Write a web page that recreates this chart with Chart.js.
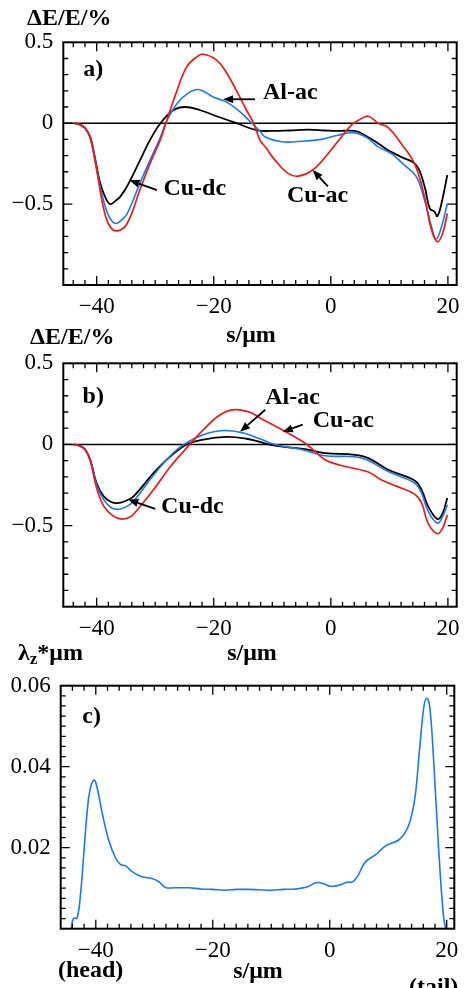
<!DOCTYPE html>
<html>
<head>
<meta charset="utf-8">
<script src="https://cdn.jsdelivr.net/npm/chart.js@4.4.1/dist/chart.umd.min.js"></script>
<style>
  body { margin: 0; background: #fff; }
  #page { position: relative; width: 469px; height: 988px; overflow: hidden; font-family: "Liberation Serif", "Times New Roman", serif; }
  #page canvas { position: absolute; left: 0; }
  .lbl { position: absolute; font-weight: bold; font-size: 24px; line-height: 24px; white-space: nowrap; color: #000; }
  .ctr { transform: translateX(-50%); }
</style>
</head>
<body>
<div id="page">
  <canvas id="chartA" width="469" height="320" style="top:0"></canvas>
  <canvas id="chartB" width="469" height="320" style="top:320px"></canvas>
  <canvas id="chartC" width="469" height="348" style="top:640px"></canvas>

  <div class="lbl" style="left:27px; top:5px">ΔE/E/%</div>
  <div class="lbl ctr" style="left:251px; top:322px">s/μm</div>
  <div class="lbl" style="left:30px; top:324px">ΔE/E/%</div>
  <div class="lbl ctr" style="left:252px; top:640px">s/μm</div>
  <div class="lbl" style="left:18px; top:640px">λ<span style="font-size:17px; position:relative; top:4px">z</span>*μm</div>
  <div class="lbl" style="left:58px; top:957px">(head)</div>
  <div class="lbl ctr" style="left:258px; top:958px">s/μm</div>
  <div class="lbl" style="left:409px; top:974px">(tail)</div>
</div>

<script>
// s positions (µm) and energy deviation ΔE/E (%) — panel a
const aCuDcS = [-43.9, -42.8, -42.0, -41.1, -40.2, -39.4, -38.5, -37.7, -36.8, -36.0, -34.8, -32.6, -30.9, -29.1, -26.9, -24.9, -22.3, -19.5, -16.1, -12.7, -10.1, -7.0, -3.9, -1.0, 1.2, 4.1, 5.8, 8.1, 9.8, 12.0, 14.6, 16.0, 16.9, 17.7, 18.2, 18.9, 19.9];
const aCuDc  = [0, -0.01, -0.03, -0.085, -0.23, -0.37, -0.46, -0.50, -0.48, -0.455, -0.39, -0.23, -0.105, 0.0, 0.08, 0.10, 0.08, 0.043, 0.0, -0.043, -0.048, -0.045, -0.04, -0.045, -0.048, -0.048, -0.074, -0.125, -0.167, -0.208, -0.26, -0.39, -0.527, -0.547, -0.574, -0.496, -0.32];

const aAlAcS = [-43.9, -42.8, -42.0, -41.1, -40.2, -39.4, -38.5, -37.7, -36.8, -35.8, -34.8, -32.6, -30.9, -29.1, -28.0, -26.3, -24.6, -22.6, -20.0, -17.8, -15.5, -13.5, -12.1, -11.2, -8.4, -4.4, -1.6, 1.2, 4.1, 6.4, 8.1, 10.3, 12.6, 14.6, 16.0, 17.2, 18.0, 18.9, 19.9];
const aAlAc  = [0, -0.01, -0.03, -0.088, -0.24, -0.39, -0.52, -0.59, -0.62, -0.60, -0.56, -0.37, -0.23, -0.085, 0.017, 0.12, 0.18, 0.208, 0.16, 0.13, 0.07, 0.0, -0.05, -0.085, -0.115, -0.11, -0.10, -0.074, -0.06, -0.095, -0.146, -0.187, -0.26, -0.33, -0.475, -0.64, -0.716, -0.64, -0.496];

const aCuAcS = [-43.9, -42.8, -42.0, -41.1, -39.9, -38.8, -37.7, -36.4, -34.8, -32.6, -30.9, -29.1, -28.0, -26.3, -24.6, -22.9, -21.8, -19.5, -17.8, -16.1, -14.4, -13.2, -12.1, -11.2, -9.5, -7.3, -5.6, -3.0, -0.45, 1.8, 3.5, 4.7, 6.4, 8.1, 9.8, 12.0, 14.3, 16.0, 17.2, 18.2, 19.1, 19.9];
const aCuAc  = [0, -0.01, -0.03, -0.09, -0.31, -0.53, -0.64, -0.665, -0.62, -0.41, -0.25, -0.10, 0.02, 0.20, 0.35, 0.41, 0.426, 0.39, 0.31, 0.20, 0.08, 0.0, -0.105, -0.146, -0.23, -0.31, -0.327, -0.286, -0.187, -0.085, -0.012, 0.018, 0.043, 0.0, -0.027, -0.125, -0.25, -0.455, -0.66, -0.733, -0.68, -0.557];

// panel b
const bCuDcS = [-43.9, -42.8, -42.0, -41.1, -40.0, -38.8, -37.5, -36.5, -35.2, -33.7, -30.3, -27.4, -24.6, -21.8, -17.8, -14.4, -12.1, -9.5, -4.4, -1.0, 4.1, 6.4, 9.8, 14.3, 15.5, 16.6, 18.2, 19.1, 19.9];
const bCuDc  = [0, -0.01, -0.03, -0.094, -0.24, -0.32, -0.355, -0.362, -0.35, -0.32, -0.177, -0.074, 0.0, 0.03, 0.046, 0.035, 0.015, -0.008, -0.029, -0.053, -0.064, -0.084, -0.156, -0.222, -0.28, -0.38, -0.46, -0.423, -0.33];

const bAlAcS = [-43.9, -42.8, -42.0, -41.1, -40.0, -38.8, -37.5, -36.3, -35.0, -33.7, -30.3, -27.4, -25.1, -21.8, -18.3, -14.9, -12.1, -9.5, -4.4, -1.0, 4.1, 6.4, 9.8, 14.3, 15.5, 16.6, 18.2, 19.1, 19.9];
const bAlAc  = [0, -0.01, -0.03, -0.094, -0.25, -0.34, -0.39, -0.40, -0.385, -0.35, -0.19, -0.07, 0.0, 0.06, 0.086, 0.07, 0.035, 0.0, -0.037, -0.07, -0.076, -0.099, -0.167, -0.238, -0.30, -0.41, -0.485, -0.444, -0.372];

const bCuAcS = [-43.9, -42.8, -42.0, -41.1, -40.0, -38.8, -37.2, -35.7, -34.5, -33.7, -30.3, -27.4, -24.1, -21.8, -18.9, -16.4, -13.8, -12.1, -7.8, -4.1, -1.0, 1.8, 6.4, 8.6, 11.4, 14.3, 15.5, 16.6, 18.2, 19.1, 19.9];
const bCuAc  = [0, -0.01, -0.03, -0.10, -0.27, -0.38, -0.44, -0.46, -0.45, -0.43, -0.28, -0.136, 0.0, 0.09, 0.183, 0.214, 0.198, 0.163, 0.08, 0.0, -0.094, -0.13, -0.17, -0.218, -0.26, -0.306, -0.36, -0.485, -0.55, -0.516, -0.434];

// panel c: longitudinal line density λz (1/µm)
const cLambdaS = [-44.2, -43.8, -43.2, -42.6, -42.05, -41.5, -41.0, -40.3, -39.8, -38.9, -37.8, -36.6, -35.8, -34.9, -33.8, -32.1, -30.4, -29.2, -28.1, -26.4, -24.1, -22.0, -20.0, -18.0, -16.0, -14.0, -12.0, -10.0, -8.0, -6.0, -5.0, -3.9, -2.2, -1.0, 0.1, 1.5, 3.0, 3.8, 4.7, 6.1, 7.8, 9.5, 11.8, 12.9, 13.8, 14.6, 15.4, 16.1, 16.6, 17.1, 17.8, 18.6, 19.4, 19.8];
const cLambda  = [0, 0.0026, 0.0026, 0.0087, 0.0186, 0.0285, 0.0342, 0.0367, 0.035, 0.0285, 0.0219, 0.0174, 0.0159, 0.0155, 0.0141, 0.0128, 0.0124, 0.0116, 0.0102, 0.0101, 0.0101, 0.0098, 0.0097, 0.0095, 0.0097, 0.0097, 0.0096, 0.0095, 0.0097, 0.0098, 0.0100, 0.0103, 0.0114, 0.0111, 0.0105, 0.0107, 0.0115, 0.0115, 0.0128, 0.0165, 0.0182, 0.0204, 0.0219, 0.0237, 0.0268, 0.0326, 0.0449, 0.0548, 0.0569, 0.0548, 0.0408, 0.0202, 0.0038, 0];

// tick labels
const sTicks = [-40, -20, 0, 20];
const dETicks = [0.5, 0, -0.5];
const lambdaTicks = [0.06, 0.04, 0.02];

const RED = '#f01a1a', BLUE = '#1a78f0', BLACK = '#000000';
const FONT = '"Liberation Serif", "Times New Roman", serif';

function zip(xs, ys) {
  return xs.map((x, i) => ({ x: x, y: ys[i] }));
}

function fmt(v) {
  return (v < 0 ? '\u2212' : '') + String(Math.abs(v));
}

// minor tick positions
const sMinor = [];
for (let i = -22; i <= 10; i++) sMinor.push(2 * i);
const dEMinor = [];
for (let i = -9; i <= 4; i++) dEMinor.push(i / 10);
const lambdaMinor = [];
for (let i = 1; i <= 23; i++) lambdaMinor.push(i * 0.0025);

// frame, inward ticks, zero line and the in-plot labels / arrows
const panelDecor = {
  id: 'panelDecor',
  beforeDatasetsDraw(chart, args, o) {
    if (!o.zeroLine) return;
    const { ctx, chartArea: a, scales: { y } } = chart;
    const py = y.getPixelForValue(0);
    ctx.save();
    ctx.strokeStyle = '#000';
    ctx.lineWidth = 1.4;
    ctx.beginPath();
    ctx.moveTo(a.left, py);
    ctx.lineTo(a.right, py);
    ctx.stroke();
    ctx.restore();
  },
  afterDraw(chart, args, o) {
    const { ctx, chartArea: a, scales: { x, y } } = chart;
    ctx.save();
    ctx.strokeStyle = '#000';
    ctx.lineWidth = 1.3;
    ctx.beginPath();
    const xTick = (v, len) => {
      const px = x.getPixelForValue(v);
      if (px <= a.left + 1 || px >= a.right - 1) return;
      ctx.moveTo(px, a.bottom); ctx.lineTo(px, a.bottom - len);
      ctx.moveTo(px, a.top); ctx.lineTo(px, a.top + len);
    };
    const yTick = (v, len) => {
      const py = y.getPixelForValue(v);
      if (py <= a.top + 1 || py >= a.bottom - 1) return;
      ctx.moveTo(a.left, py); ctx.lineTo(a.left + len, py);
      ctx.moveTo(a.right, py); ctx.lineTo(a.right - len, py);
    };
    o.xMinor.forEach(v => xTick(v, 5));
    o.xMajor.forEach(v => xTick(v, 9));
    o.yMinor.forEach(v => yTick(v, 5));
    o.yMajor.forEach(v => yTick(v, 9));
    ctx.stroke();

    ctx.lineWidth = 2;
    ctx.strokeRect(a.left, a.top, a.right - a.left, a.bottom - a.top);

    ctx.fillStyle = '#000';
    ctx.font = 'bold 24px ' + FONT;
    ctx.textBaseline = 'middle';
    ctx.textAlign = 'left';
    (o.labels || []).forEach(l => {
      ctx.fillText(l.text, x.getPixelForValue(l.s), y.getPixelForValue(l.v));
    });

    (o.arrows || []).forEach(ar => {
      const x0 = x.getPixelForValue(ar.from[0]), y0 = y.getPixelForValue(ar.from[1]);
      const x1 = x.getPixelForValue(ar.to[0]), y1 = y.getPixelForValue(ar.to[1]);
      const ang = Math.atan2(y1 - y0, x1 - x0);
      const head = 10, half = 4;
      const bx = x1 - head * Math.cos(ang), by = y1 - head * Math.sin(ang);
      ctx.lineWidth = 1.8;
      ctx.beginPath();
      ctx.moveTo(x0, y0);
      ctx.lineTo(bx, by);
      ctx.stroke();
      ctx.beginPath();
      ctx.moveTo(x1, y1);
      ctx.lineTo(bx + half * Math.sin(ang), by - half * Math.cos(ang));
      ctx.lineTo(bx - half * Math.sin(ang), by + half * Math.cos(ang));
      ctx.closePath();
      ctx.fill();
    });
    ctx.restore();
  }
};

function line(data, color, width) {
  return {
    data: data,
    borderColor: color,
    borderWidth: width,
    pointRadius: 0,
    fill: false,
    tension: 0.4
  };
}

function makePanel(id, p) {
  return new Chart(document.getElementById(id), {
    type: 'line',
    data: { datasets: p.datasets },
    options: {
      responsive: false,
      animation: false,
      events: [],
      layout: { padding: p.padding },
      plugins: {
        legend: { display: false },
        tooltip: { enabled: false },
        panelDecor: p.decor
      },
      scales: {
        x: {
          type: 'linear',
          min: p.xMin,
          max: p.xMax,
          grid: { display: false, drawTicks: false },
          border: { display: false },
          afterBuildTicks: sc => { sc.ticks = sTicks.map(v => ({ value: v })); },
          afterFit: sc => { sc.height = p.xHeight; },
          ticks: {
            padding: 8, color: '#000', maxRotation: 0, autoSkip: false,
            font: { family: FONT, size: 23 },
            callback: v => fmt(v)
          }
        },
        y: {
          type: 'linear',
          min: p.yMin,
          max: p.yMax,
          grid: { display: false, drawTicks: false },
          border: { display: false },
          afterBuildTicks: sc => { sc.ticks = p.yTicks.map(v => ({ value: v })); },
          afterFit: sc => { sc.width = p.yWidth; },
          ticks: {
            padding: 10, color: '#000', autoSkip: false,
            font: { family: FONT, size: 23 },
            callback: v => fmt(v)
          }
        }
      }
    },
    plugins: [panelDecor]
  });
}

// a) energy deviation, first configuration
makePanel('chartA', {
  datasets: [
    line(zip(aCuAcS, aCuAc), RED, 1.7),
    line(zip(aAlAcS, aAlAc), BLUE, 1.6),
    line(zip(aCuDcS, aCuDc), BLACK, 1.8)
  ],
  padding: { top: 42.3, right: 12.3, bottom: 0, left: 0 },
  xMin: -45.7, xMax: 21.5, xHeight: 35,
  yMin: -1.0, yMax: 0.5, yWidth: 63.3, yTicks: dETicks,
  decor: {
    zeroLine: true,
    xMinor: sMinor, xMajor: sTicks, yMinor: dEMinor, yMajor: dETicks,
    labels: [
      { text: 'a)', s: -42.3, v: 0.327 },
      { text: 'Al-ac', s: -11.6, v: 0.19 },
      { text: 'Cu-dc', s: -28.6, v: -0.407 },
      { text: 'Cu-ac', s: -7.5, v: -0.45 }
    ],
    arrows: [
      { from: [-12.95, 0.148], to: [-18.4, 0.148] },
      { from: [-29.7, -0.414], to: [-34.4, -0.352] },
      { from: [-0.5, -0.39], to: [-3.1, -0.29] }
    ]
  }
});

// b) energy deviation, second configuration
makePanel('chartB', {
  datasets: [
    line(zip(bCuAcS, bCuAc), RED, 1.7),
    line(zip(bAlAcS, bAlAc), BLUE, 1.6),
    line(zip(bCuDcS, bCuDc), BLACK, 1.8)
  ],
  padding: { top: 43.3, right: 12.3, bottom: 0, left: 0 },
  xMin: -45.7, xMax: 21.5, xHeight: 33.3,
  yMin: -1.0, yMax: 0.5, yWidth: 63.3, yTicks: dETicks,
  decor: {
    zeroLine: true,
    xMinor: sMinor, xMajor: sTicks, yMinor: dEMinor, yMajor: dETicks,
    labels: [
      { text: 'b)', s: -42.4, v: 0.294 },
      { text: 'Al-ac', s: -11.2, v: 0.288 },
      { text: 'Cu-ac', s: -3.1, v: 0.146 },
      { text: 'Cu-dc', s: -29.0, v: -0.385 }
    ],
    arrows: [
      { from: [-11.2, 0.214], to: [-15.5, 0.078] },
      { from: [-4.8, 0.122], to: [-8.2, 0.078] },
      { from: [-30.0, -0.397], to: [-34.6, -0.34] }
    ]
  }
});

// c) line density along the bunch
makePanel('chartC', {
  datasets: [
    line(zip(cLambdaS, cLambda), BLUE, 1.6)
  ],
  padding: { top: 45.7, right: 14.7, bottom: 0, left: 0 },
  xMin: -46.0, xMax: 21.3, xHeight: 59.3,
  yMin: 0, yMax: 0.06, yWidth: 60.7, yTicks: lambdaTicks,
  decor: {
    zeroLine: false,
    xMinor: sMinor, xMajor: sTicks, yMinor: lambdaMinor, yMajor: [0.04, 0.02],
    labels: [
      { text: 'c)', s: -42.3, v: 0.0523 }
    ],
    arrows: []
  }
});
</script>
</body>
</html>
